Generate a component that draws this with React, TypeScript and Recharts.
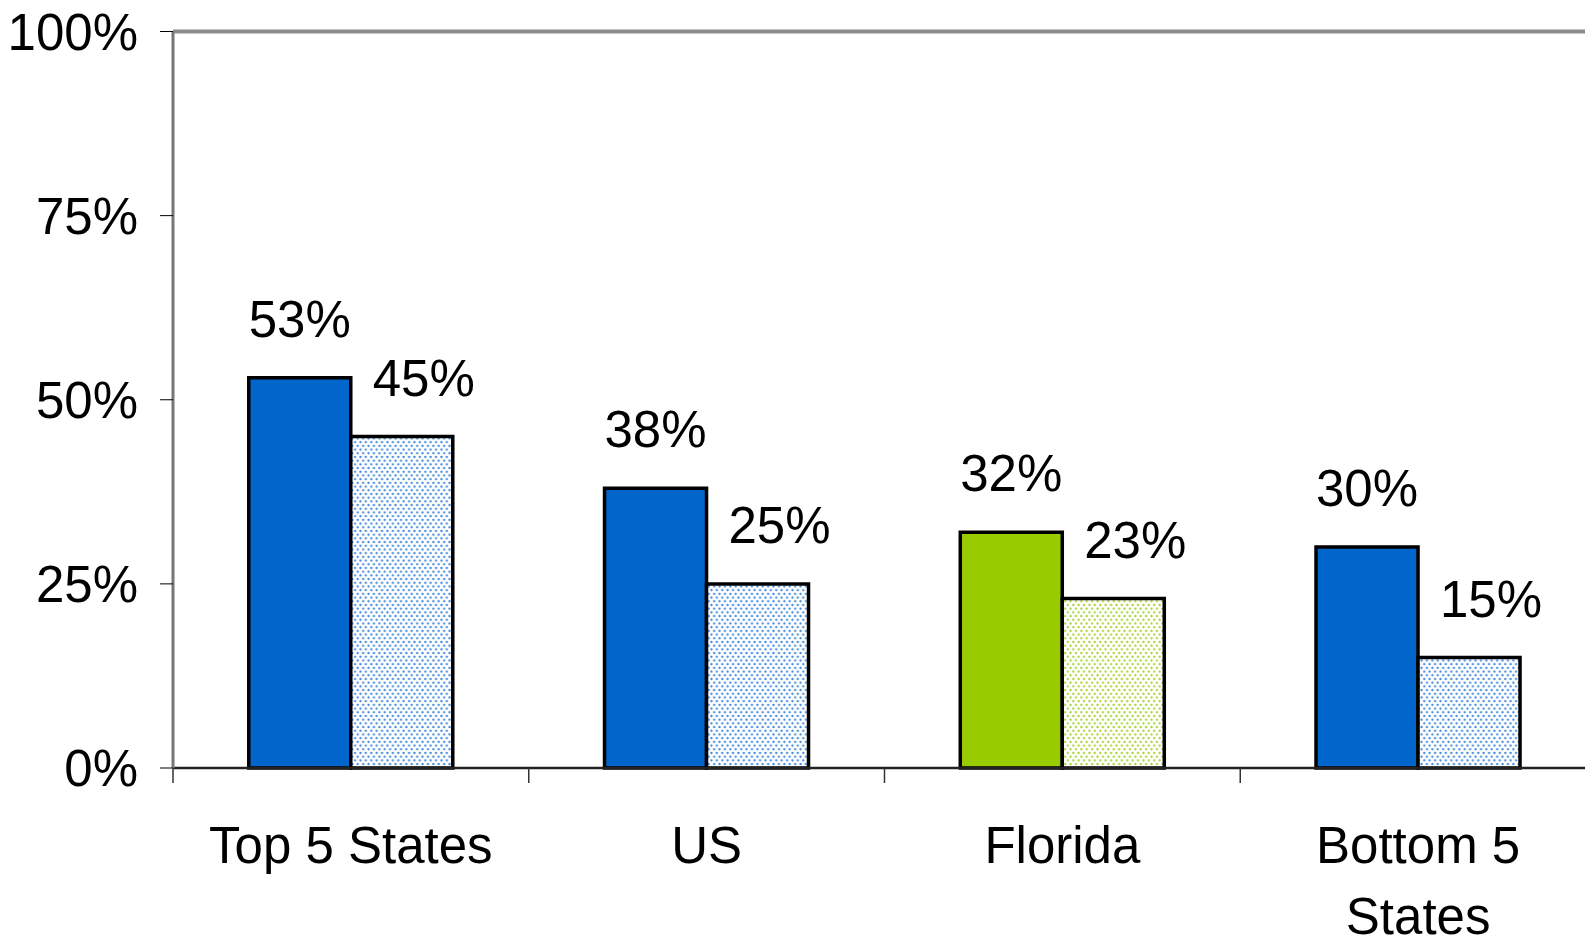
import React from 'react';
import {
  BarChart,
  Bar,
  XAxis,
  YAxis,
  ReferenceLine,
  LabelList,
  Cell
} from 'recharts';

// Values
const categories = ['Top 5 States', 'US', 'Florida', 'Bottom 5 States'];
const solidValues = [53, 38, 32, 30];
const dottedValues = [45, 25, 23, 15];
const yTicks = [0, 25, 50, 75, 100];
const highlighted = ['Florida'];

const chartData = categories.map((name, i) => ({
  name,
  solid: solidValues[i],
  dotted: dottedValues[i]
}));

const FONT = "'Liberation Sans', Arial, sans-serif";
const FONT_SIZE = 51;
const BLUE = '#0066CC';
const GREEN = '#99CC00';

const pct = (v: any) => `${v}%`;

// Greedy word wrap measured with a canvas
let ctx: CanvasRenderingContext2D | null = null;
const measure = (s: string) => {
  if (!ctx) {
    ctx = document.createElement('canvas').getContext('2d');
    if (ctx) ctx.font = `${FONT_SIZE}px 'Liberation Sans', Arial, sans-serif`;
  }
  return ctx ? ctx.measureText(s).width : s.length * FONT_SIZE * 0.55;
};

const wrapLabel = (text: string, maxWidth: number) => {
  const words = text.split(' ');
  const lines: string[] = [];
  let cur = '';
  words.forEach(w => {
    const next = cur ? `${cur} ${w}` : w;
    if (cur && measure(next) > maxWidth) {
      lines.push(cur);
      cur = w;
    } else {
      cur = next;
    }
  });
  if (cur) lines.push(cur);
  return lines;
};

// Category label plus a small tick at the left edge of each band
const CategoryTick = (props: any) => {
  const { x, y, payload, index, visibleTicksCount } = props;
  const off = payload.offset || 0;
  const isLast = index === visibleTicksCount - 1;
  const lines = wrapLabel(String(payload.value), 340);
  return (
    <g>
      <line x1={x - off} x2={x - off} y1={y} y2={y + 15} stroke="#333" strokeWidth={1.5} />
      {isLast && <line x1={x + off} x2={x + off} y1={y} y2={y + 15} stroke="#333" strokeWidth={1.5} />}
      <text x={x} y={y + 95} textAnchor="middle" fontSize={FONT_SIZE} fontFamily={FONT} fill="#000">
        {lines.map((ln, i) => (
          <tspan key={i} x={x} dy={i === 0 ? 0 : 71}>{ln}</tspan>
        ))}
      </text>
    </g>
  );
};

const App = () => {
  return (
    <div style={{ position: 'fixed', left: 0, top: 0, width: 1585, height: 942, overflow: 'hidden', background: '#fff' }}>
      <BarChart
        width={1600}
        height={942}
        data={chartData}
        margin={{ top: 31.5, right: 4, bottom: 24, left: 0 }}
        barCategoryGap="21.3%"
        barGap={0}
      >
        <defs>
          <pattern id="dotsBlue" patternUnits="userSpaceOnUse" width="5.4" height="7.4">
            <rect width="5.4" height="7.4" fill="#fff" />
            <circle cx="1.35" cy="1.85" r="1.15" fill="#3a86de" />
            <circle cx="4.05" cy="5.55" r="1.15" fill="#3a86de" />
          </pattern>
          <pattern id="dotsGreen" patternUnits="userSpaceOnUse" width="5.4" height="7.4">
            <rect width="5.4" height="7.4" fill="#fff" />
            <circle cx="1.35" cy="1.85" r="1.15" fill="#a2d22a" />
            <circle cx="4.05" cy="5.55" r="1.15" fill="#a2d22a" />
          </pattern>
        </defs>
        <XAxis
          dataKey="name"
          height={150}
          interval={0}
          tickLine={false}
          tickSize={0}
          tickMargin={0}
          axisLine={{ stroke: '#222', strokeWidth: 2.5 }}
          tick={<CategoryTick />}
        />
        <YAxis
          type="number"
          domain={[0, 100]}
          ticks={yTicks}
          width={173}
          tickFormatter={pct}
          tickSize={13}
          tickMargin={22}
          tickLine={{ stroke: '#000', strokeWidth: 1 }}
          axisLine={{ stroke: '#777', strokeWidth: 3 }}
          tick={{ fontSize: FONT_SIZE, fontFamily: FONT, fill: '#000' }}
        />
        <ReferenceLine y={100} stroke="#8c8c8c" strokeWidth={4} />
        <Bar dataKey="solid" stroke="#000" strokeWidth={3.5} isAnimationActive={false}>
          {chartData.map((d, i) => (
            <Cell key={`s-${i}`} fill={highlighted.includes(d.name) ? GREEN : BLUE} />
          ))}
          <LabelList
            dataKey="solid"
            position="top"
            offset={41}
            formatter={pct}
            fontSize={FONT_SIZE}
            fontFamily={FONT}
            fill="#000"
          />
        </Bar>
        <Bar dataKey="dotted" stroke="#000" strokeWidth={3.5} isAnimationActive={false}>
          {chartData.map((d, i) => (
            <Cell key={`d-${i}`} fill={highlighted.includes(d.name) ? 'url(#dotsGreen)' : 'url(#dotsBlue)'} />
          ))}
          <LabelList
            dataKey="dotted"
            position="top"
            offset={41}
            dx={22}
            formatter={pct}
            fontSize={FONT_SIZE}
            fontFamily={FONT}
            fill="#000"
          />
        </Bar>
      </BarChart>
    </div>
  );
};

export default App;
